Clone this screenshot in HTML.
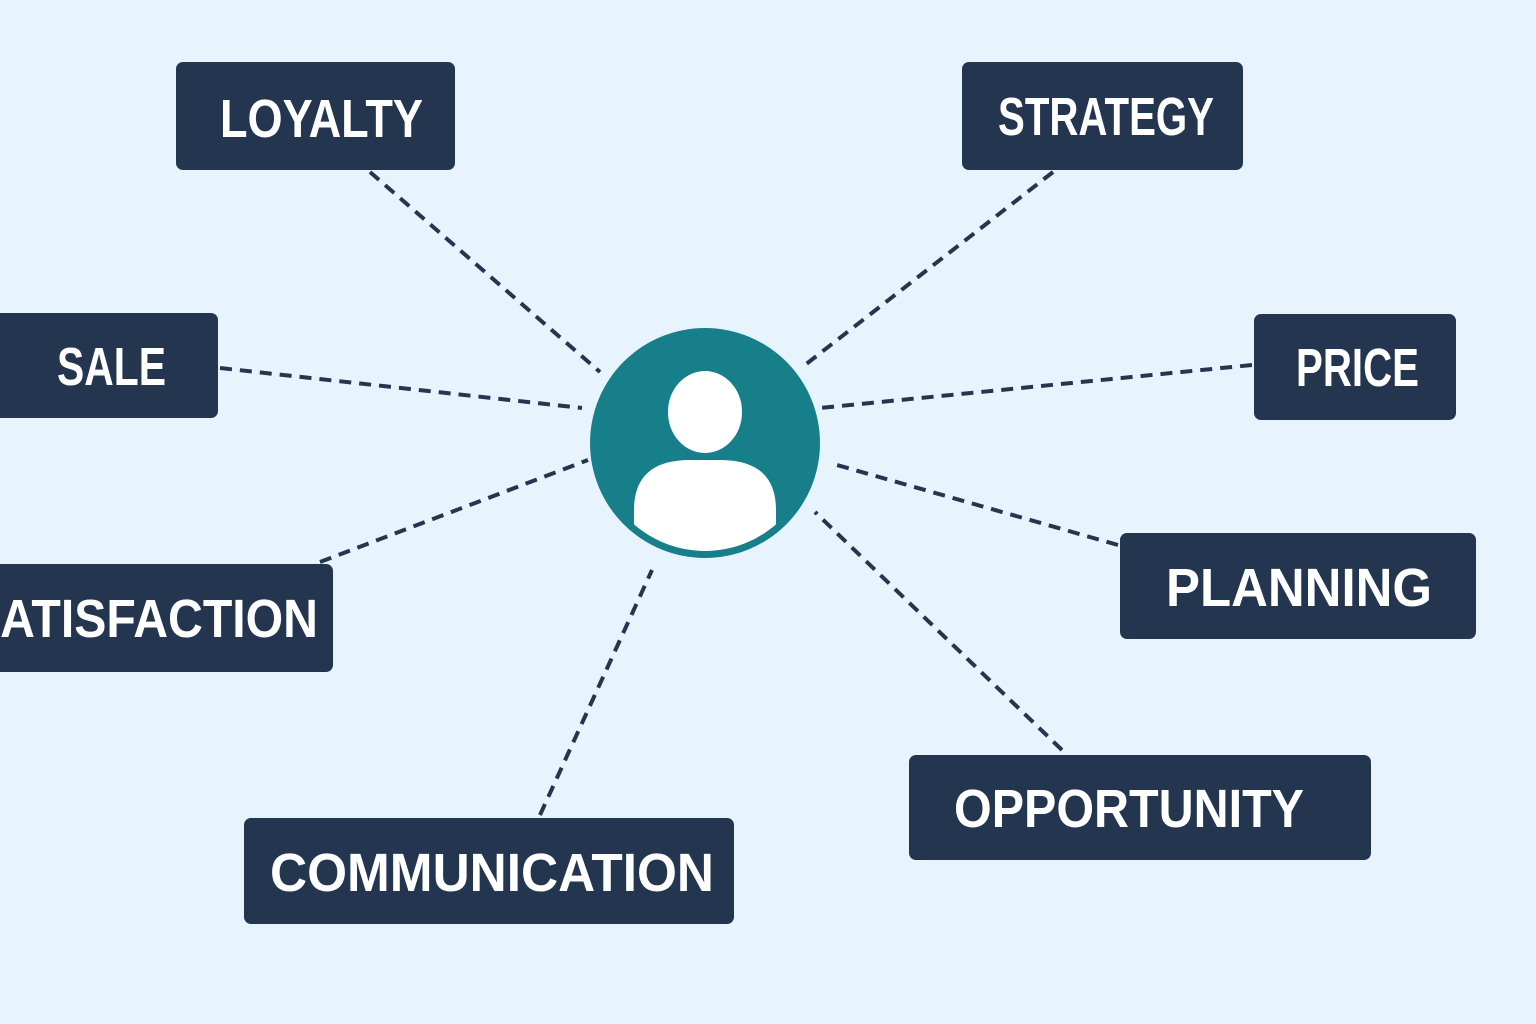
<!DOCTYPE html>
<html><head><meta charset="utf-8"><style>
html,body{margin:0;padding:0;background:#e8f4fd;}
svg{display:block}
</style></head><body>
<svg width="1536" height="1024" viewBox="0 0 1536 1024" xmlns="http://www.w3.org/2000/svg">
<rect width="1536" height="1024" fill="#e8f4fd"/>
<g stroke="#243550" stroke-width="4" stroke-dasharray="12 8" fill="none">
<line x1="370" y1="172" x2="600" y2="372"/>
<line x1="1053" y1="172" x2="805" y2="365"/>
<line x1="220" y1="368" x2="582" y2="408"/>
<line x1="1252" y1="365" x2="820" y2="408"/>
<line x1="320" y1="562" x2="588" y2="460"/>
<line x1="1118" y1="545" x2="830" y2="463"/>
<line x1="1062" y1="750" x2="815" y2="512"/>
<line x1="540" y1="815" x2="652" y2="570"/>
</g>
<g fill="#243550">
<rect x="176" y="62" width="279" height="108" rx="7"/>
<rect x="962" y="62" width="281" height="108" rx="7"/>
<rect x="-10" y="313" width="228" height="105" rx="7"/>
<rect x="1254" y="314" width="202" height="106" rx="7"/>
<rect x="-60" y="564" width="393" height="108" rx="7"/>
<rect x="1120" y="533" width="356" height="106" rx="7"/>
<rect x="909" y="755" width="462" height="105" rx="7"/>
<rect x="244" y="818" width="490" height="106" rx="7"/>
</g>
<g fill="#ffffff" font-family="Liberation Sans, sans-serif" font-weight="bold" font-size="54" lengthAdjust="spacingAndGlyphs">
<text x="220" y="137" textLength="203" lengthAdjust="spacingAndGlyphs">LOYALTY</text>
<text x="998" y="135" textLength="216" lengthAdjust="spacingAndGlyphs">STRATEGY</text>
<text x="57" y="385" textLength="109" lengthAdjust="spacingAndGlyphs">SALE</text>
<text x="1296" y="386" textLength="123" lengthAdjust="spacingAndGlyphs">PRICE</text>
<text x="-32" y="637" textLength="350" lengthAdjust="spacingAndGlyphs">SATISFACTION</text>
<text x="1166" y="606" textLength="266" lengthAdjust="spacingAndGlyphs">PLANNING</text>
<text x="954" y="827" textLength="350" lengthAdjust="spacingAndGlyphs">OPPORTUNITY</text>
<text x="270" y="891" textLength="444" lengthAdjust="spacingAndGlyphs">COMMUNICATION</text>
</g>
<defs><clipPath id="c"><circle cx="705" cy="443" r="108"/></clipPath></defs>
<circle cx="705" cy="443" r="115" fill="#167f8a"/>
<g clip-path="url(#c)" fill="#ffffff">
<path d="M634 560 L634 510 Q634 460 690 460 L720 460 Q776 460 776 510 L776 560 Z"/>
</g>
<ellipse cx="705" cy="412" rx="40" ry="44" fill="#ffffff" stroke="#167f8a" stroke-width="6"/>
</svg>
</body></html>
